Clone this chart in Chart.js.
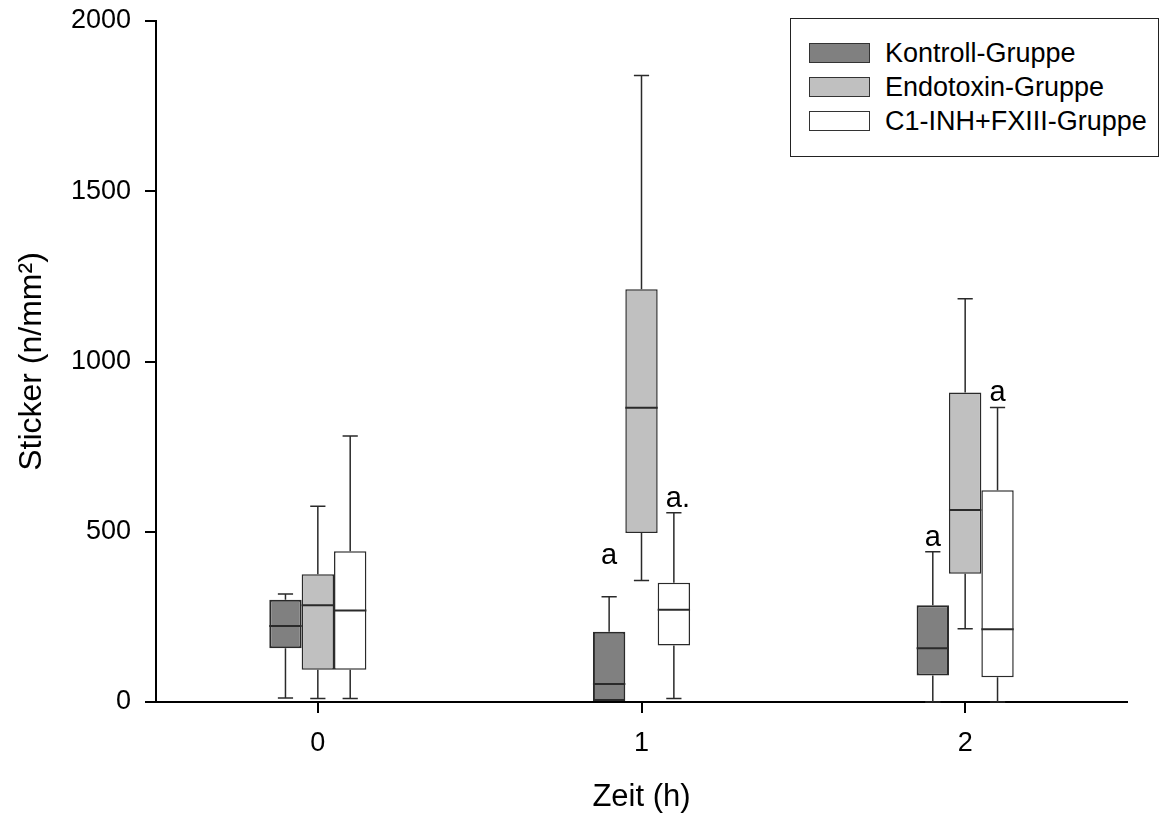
<!DOCTYPE html>
<html>
<head>
<meta charset="utf-8">
<script src="https://cdn.jsdelivr.net/npm/chart.js@4.4.0/dist/chart.umd.min.js"></script>
<style>
 body{margin:0;background:#fff;}
 #wrap{position:relative;width:1161px;height:816px;}
 #legend{position:absolute;left:790px;top:18px;width:369px;height:139px;
  border:1.5px solid #222;box-sizing:border-box;padding:17px 0 0 18px;
  font:27px "Liberation Sans",Arial,sans-serif;color:#000;background:#fff;}
 .row{display:flex;align-items:center;height:34px;}
 .sw{width:61px;height:20px;border:1.5px solid #333;box-sizing:border-box;margin-right:15px;}
</style>
</head>
<body>
<div id="wrap">
 <canvas id="c" width="1161" height="816"></canvas>
 <div id="legend"></div>
</div>
<script>
/* ----- DATA ----- */
const times=['0','1','2'];
const groups=['Kontroll-Gruppe','Endotoxin-Gruppe','C1-INH+FXIII-Gruppe'];

// per time point: [min, q1, median, q3, max]
const kontroll=[[12,158,223,300,317],[0,0,53,206,309],[0,78,158,284,441]];
const endotoxin=[[10,95,284,375,575],[357,496,864,1212,1840],[215,377,564,909,1184]];
const c1inh=[[10,95,269,443,781],[10,166,271,350,556],[0,73,214,622,865]];

// significance letters and the value they sit at
const kontrollSig=['','a','a'];
const kontrollSigAt=[null,425,480];
const endotoxinSig=['','',''];
const endotoxinSigAt=[null,null,null];
const c1inhSig=['','a.','a'];
const c1inhSigAt=[null,594,904];

const yTicks=[0,500,1000,1500,2000];

/* ----- STYLE ----- */
const FONT='"Liberation Sans", Arial, sans-serif';
Chart.defaults.font.family=FONT;
Chart.defaults.color='#000';

const fills=['#808080','#c0c0c0','#ffffff'];
const stats=[kontroll,endotoxin,c1inh];
const sigs=[kontrollSig,endotoxinSig,c1inhSig];
const sigAt=[kontrollSigAt,endotoxinSigAt,c1inhSigAt];

/* ----- BOX PLOT PARTS ----- */
const boxPlot={
 id:'boxPlot',
 afterDatasetsDraw(chart){
  const ctx=chart.ctx;
  const y=chart.scales.y;
  chart.data.datasets.forEach((ds,i)=>{
   const meta=chart.getDatasetMeta(i);
   meta.data.forEach((bar,j)=>{
    const [lo,q1,med,q3,hi]=ds.stats[j];
    const x=bar.x, w=bar.width, cap=w*0.47;
    const pLo=y.getPixelForValue(lo), pQ1=y.getPixelForValue(q1);
    const pMed=y.getPixelForValue(med), pQ3=y.getPixelForValue(q3);
    const pHi=y.getPixelForValue(hi);
    ctx.save();
    ctx.strokeStyle='#2a2a2a';
    ctx.lineWidth=1.5;
    ctx.beginPath();
    ctx.moveTo(x,pQ3); ctx.lineTo(x,pHi);
    ctx.moveTo(x-cap/2,pHi); ctx.lineTo(x+cap/2,pHi);
    if(q1>lo){
     ctx.moveTo(x,pQ1); ctx.lineTo(x,pLo);
     ctx.moveTo(x-cap/2,pLo); ctx.lineTo(x+cap/2,pLo);
    }
    ctx.stroke();
    ctx.lineWidth=2;
    ctx.beginPath();
    ctx.moveTo(x-w/2,pMed); ctx.lineTo(x+w/2,pMed);
    ctx.stroke();

    const s=ds.sig[j];
    if(s){
     ctx.font='29px '+FONT;
     ctx.fillStyle='#000';
     ctx.textBaseline='alphabetic';
     ctx.textAlign='left';
     const aw=ctx.measureText('a').width;
     ctx.fillText(s,x-aw/2,y.getPixelForValue(ds.sigAt[j])+7);
    }
    ctx.restore();
   });
  });
 }
};

/* ----- CHART ----- */
const chart=new Chart(document.getElementById('c'),{
 type:'bar',
 data:{
  labels:times,
  datasets:groups.map((g,i)=>({
   label:g,
   data:stats[i].map(b=>[b[1],b[3]]),
   stats:stats[i],
   sig:sigs[i],
   sigAt:sigAt[i],
   backgroundColor:fills[i],
   borderColor:'#2a2a2a',
   borderWidth:i===0?2:1.5,
   borderSkipped:false,
   categoryPercentage:0.3,
   barPercentage:1
  }))
 },
 options:{
  responsive:false,
  animation:false,
  layout:{padding:{top:21,right:34,left:0,bottom:0}},
  plugins:{legend:{display:false},tooltip:{enabled:false}},
  scales:{
   x:{
    offset:true,
    grid:{offset:false,drawOnChartArea:false,drawTicks:true,tickLength:11,color:'#000',lineWidth:2},
    border:{display:true,color:'#000',width:2},
    ticks:{font:{size:27},color:'#000',padding:14},
    title:{display:true,text:'Zeit (h)',font:{size:31},color:'#000',padding:0},
    afterFit:s=>{s.height=114;s.paddingLeft=0;s.paddingRight=0;}
   },
   y:{
    min:0,max:2000,
    afterBuildTicks:s=>{s.ticks=yTicks.map(v=>({value:v}));},
    grid:{drawOnChartArea:false,drawTicks:true,tickLength:11,color:'#000',lineWidth:2},
    border:{display:true,color:'#000',width:2},
    ticks:{font:{size:27},color:'#000',padding:14,callback:v=>String(v)},
    title:{display:true,text:'Sticker (n/mm\u00b2)',font:{size:32},color:'#000',padding:{top:13,bottom:0}},
    afterFit:s=>{s.width=156;s.paddingTop=0;s.paddingBottom=0;}
   }
  }
 },
 plugins:[boxPlot]
});

/* ----- LEGEND ----- */
document.getElementById('legend').innerHTML=chart.data.datasets.map(d=>`
 <div class="row"><span class="sw" style="background:${d.backgroundColor}"></span>${d.label}</div>
`).join('');
</script>
</body>
</html>
